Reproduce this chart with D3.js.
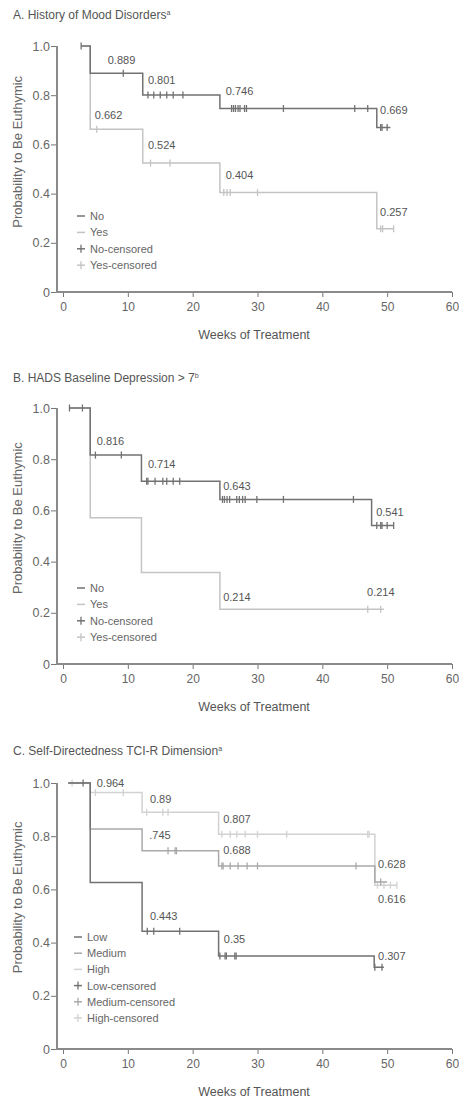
<!DOCTYPE html>
<html>
<head>
<meta charset="utf-8">
<script src="https://cdn.jsdelivr.net/npm/d3@7"></script>
<style>
	body { margin: 0; background: #fff; }
	text { font-family: "Liberation Sans", Arial, sans-serif; }
</style>
</head>
<body>
<div id="plot"></div>
<script>

// ---- panel A : history of mood disorders ----
var aNoTimes = [2.8, 4.2, 12.3, 24.2, 48.4];
var aNoVals = [1, 0.889, 0.801, 0.746, 0.669];
var aNoEnd = 50.5;
var aNoCens = [2.8, 9.3, 13.1, 14, 15, 16, 17, 18.5, 26, 26.3, 26.6, 27, 27.3, 28, 28.3, 34, 45, 47, 49, 49.2, 50];
var aYesTimes = [2.8, 4.2, 12.3, 24.2, 48.4];
var aYesVals = [1, 0.662, 0.524, 0.404, 0.257];
var aYesEnd = 51;
var aYesCens = [5.2, 13.5, 16.5, 24.8, 25.3, 25.8, 30, 49, 49.3, 51];
var aLabels = [[6.9, 0.927, "0.889"], [13.1, 0.846, "0.801"], [25.1, 0.801, "0.746"], [48.9, 0.724, "0.669"],
	[4.9, 0.703, "0.662"], [13.1, 0.581, "0.524"], [25.1, 0.459, "0.404"], [48.9, 0.309, "0.257"]];

// ---- panel B : HADS baseline depression ----
var bNoTimes = [1, 4.2, 12.1, 24.2, 47.6];
var bNoVals = [1, 0.816, 0.714, 0.643, 0.541];
var bNoEnd = 51;
var bNoCens = [1, 3, 5, 9, 12.9, 13.1, 14.2, 15.4, 16, 17, 18, 24.6, 24.9, 25.3, 25.7, 26.8, 27.2, 27.7, 28.1, 29.9, 34, 44.8, 48.4, 49, 49.2, 50, 51];
var bYesTimes = [1, 4.2, 12.1, 24.2];
var bYesVals = [1, 0.571, 0.357, 0.214];
var bYesEnd = 49.5;
var bYesCens = [47, 49];
var bLabels = [[5.2, 0.857, "0.816"], [13.1, 0.764, "0.714"], [24.7, 0.678, "0.643"], [48.3, 0.578, "0.541"],
	[24.7, 0.248, "0.214"], [46.9, 0.264, "0.214"]];

// ---- panel C : self-directedness ----
var cLowTimes = [0.8, 4.2, 12.2, 24, 48];
var cLowVals = [1, 0.626, 0.443, 0.35, 0.307];
var cLowEnd = 49.5;
var cLowCens = [3.1, 13, 14, 18, 24.2, 25, 25.2, 26.5, 26.7, 48.1, 49.2];
var cMedTimes = [0.8, 4.2, 12.2, 24, 48.1];
var cMedVals = [1, 0.827, 0.745, 0.688, 0.628];
var cMedEnd = 50;
var cMedCens = [16.2, 17.3, 17.5, 24.5, 24.7, 25.8, 27, 28.4, 30, 45.2, 49];
var cHighTimes = [0.8, 4.2, 12.2, 24, 48.1];
var cHighVals = [1, 0.964, 0.89, 0.807, 0.616];
var cHighEnd = 51.5;
var cHighCens = [1.4, 5, 9.3, 12.9, 15.4, 16.2, 24.5, 25.8, 26.8, 28.1, 30, 34.5, 47, 47.2, 48.5, 49.5, 50.5, 51.5];
var cLabels = [[5.2, 0.985, "0.964"], [13.4, 0.925, "0.89"], [24.7, 0.850, "0.807"], [13.3, 0.789, ".745"],
	[24.7, 0.733, "0.688"], [48.6, 0.680, "0.628"], [48.6, 0.549, "0.616"], [13.4, 0.485, "0.443"],
	[24.8, 0.398, "0.35"], [48.6, 0.335, "0.307"]];

var xTicks = [0, 10, 20, 30, 40, 50, 60];
var yTicks = [0, 0.2, 0.4, 0.6, 0.8, 1.0];

var dark = "#727272", mid = "#a9a9a9", light = "#c4c4c4", lighter = "#d2d2d2";

var W = 459, H = 1104;
var svg = d3.select("#plot").append("svg")
	.attr("width", W)
	.attr("height", H);

function survAt(times, vals, t){
	var v = vals[0];
	for (var i = 0; i < times.length; i++){
		if (times[i] <= t) v = vals[i];
	}
	return v;
}

function drawPanel(p){
	var x = d3.scaleLinear().domain([0, 60]).range([63, 452]);
	var y = d3.scaleLinear().domain([0, 1]).range([p.bottom, p.top]);
	var g = svg.append("g");

	// title
	var t = g.append("text")
		.attr("x", 13)
		.attr("y", p.titleY)
		.style("font-size", "12px")
		.style("fill", "#555")
		.text(p.title);
	t.append("tspan")
		.attr("dy", -4)
		.style("font-size", "7px")
		.text(p.sup);

	// axes
	var yAxis = d3.axisLeft(y).tickValues(yTicks).tickSize(6)
		.tickFormat(function(d){ return d === 0 ? "0" : d3.format(".1f")(d); });
	var ya = g.append("g").attr("transform", "translate(57,0)").call(yAxis);
	ya.select(".domain").remove();
	ya.selectAll("line").attr("stroke", "#777");
	ya.selectAll("text").style("font-size", "12.5px").style("fill", "#666").attr("x", -7);

	var xAxis = d3.axisBottom(x).tickValues(xTicks).tickSize(5).tickFormat(d3.format("d"));
	var xa = g.append("g").attr("transform", "translate(0," + p.bottom + ")").call(xAxis);
	xa.select(".domain").remove();
	xa.selectAll("line").attr("stroke", "#777");
	xa.selectAll("text").style("font-size", "12px").style("fill", "#666").attr("y", 10);

	g.append("line")
		.attr("x1", 57).attr("x2", 57)
		.attr("y1", p.top).attr("y2", p.bottom + 1)
		.attr("stroke", "#8a8a8a").attr("stroke-width", 2);
	g.append("line")
		.attr("x1", 56).attr("x2", 452)
		.attr("y1", p.bottom).attr("y2", p.bottom)
		.attr("stroke", "#8a8a8a").attr("stroke-width", 2);

	g.append("text")
		.attr("x", 254)
		.attr("y", p.bottom + 47)
		.attr("text-anchor", "middle")
		.style("font-size", "12.5px")
		.style("fill", "#555")
		.text("Weeks of Treatment");

	g.append("text")
		.attr("transform", "translate(22," + (p.top + (p.bottom - p.top) * 0.43) + ") rotate(-90)")
		.attr("text-anchor", "middle")
		.style("font-size", "13px")
		.style("fill", "#666")
		.text("Probability to Be Euthymic");

	// curves, light first so the darker ones sit on top
	var line = d3.line()
		.x(function(d){ return x(d[0]); })
		.y(function(d){ return y(d[1]); })
		.curve(d3.curveStepAfter);

	p.curves.slice().reverse().forEach(function(c){
		var pts = c.times.map(function(tm, i){ return [tm, c.vals[i]]; });
		pts.push([c.end, c.vals[c.vals.length - 1]]);
		g.append("path")
			.attr("d", line(pts))
			.attr("fill", "none")
			.attr("stroke", c.color)
			.attr("stroke-width", 1.5);

		g.selectAll(null)
			.data(c.cens)
			.enter().append("line")
			.attr("x1", function(d){ return x(d); })
			.attr("x2", function(d){ return x(d); })
			.attr("y1", function(d){ return y(survAt(c.times, c.vals, d)) - 3.5; })
			.attr("y2", function(d){ return y(survAt(c.times, c.vals, d)) + 3.5; })
			.attr("stroke", c.color)
			.attr("stroke-width", 1.3);
	});

	// value labels
	g.selectAll(null)
		.data(p.labels)
		.enter().append("text")
		.attr("x", function(d){ return x(d[0]); })
		.attr("y", function(d){ return y(d[1]); })
		.style("font-size", "11px")
		.style("fill", "#555")
		.text(function(d){ return d[2]; });

	// legend
	var rows = [];
	p.curves.forEach(function(c){ rows.push({name: c.name, color: c.color, cens: false}); });
	p.curves.forEach(function(c){ rows.push({name: c.name + "-censored", color: c.color, cens: true}); });

	rows.forEach(function(r, i){
		var ly = p.legendY + i * p.legendStep;
		g.append("line")
			.attr("x1", p.legendX - 4).attr("x2", p.legendX + 4)
			.attr("y1", ly).attr("y2", ly)
			.attr("stroke", r.color).attr("stroke-width", 1.5);
		if (r.cens){
			g.append("line")
				.attr("x1", p.legendX).attr("x2", p.legendX)
				.attr("y1", ly - 4).attr("y2", ly + 4)
				.attr("stroke", r.color).attr("stroke-width", 1.3);
		}
		g.append("text")
			.attr("x", p.legendX + 9)
			.attr("y", ly + 4)
			.style("font-size", "11px")
			.style("fill", "#666")
			.text(r.name);
	});
}

drawPanel({
	title: "A. History of Mood Disorders", sup: "a", titleY: 19,
	top: 46, bottom: 292,
	legendX: 81, legendY: 216, legendStep: 16.4,
	labels: aLabels,
	curves: [
		{name: "No", times: aNoTimes, vals: aNoVals, end: aNoEnd, cens: aNoCens, color: dark},
		{name: "Yes", times: aYesTimes, vals: aYesVals, end: aYesEnd, cens: aYesCens, color: light}
	]
});

drawPanel({
	title: "B. HADS Baseline Depression > 7", sup: "b", titleY: 382,
	top: 408, bottom: 664,
	legendX: 81, legendY: 588, legendStep: 16.4,
	labels: bLabels,
	curves: [
		{name: "No", times: bNoTimes, vals: bNoVals, end: bNoEnd, cens: bNoCens, color: dark},
		{name: "Yes", times: bYesTimes, vals: bYesVals, end: bYesEnd, cens: bYesCens, color: light}
	]
});

drawPanel({
	title: "C. Self-Directedness TCI-R Dimension", sup: "a", titleY: 755,
	top: 783, bottom: 1049,
	legendX: 78, legendY: 937, legendStep: 16.2,
	labels: cLabels,
	curves: [
		{name: "Low", times: cLowTimes, vals: cLowVals, end: cLowEnd, cens: cLowCens, color: dark},
		{name: "Medium", times: cMedTimes, vals: cMedVals, end: cMedEnd, cens: cMedCens, color: mid},
		{name: "High", times: cHighTimes, vals: cHighVals, end: cHighEnd, cens: cHighCens, color: lighter}
	]
});

</script>
</body>
</html>
